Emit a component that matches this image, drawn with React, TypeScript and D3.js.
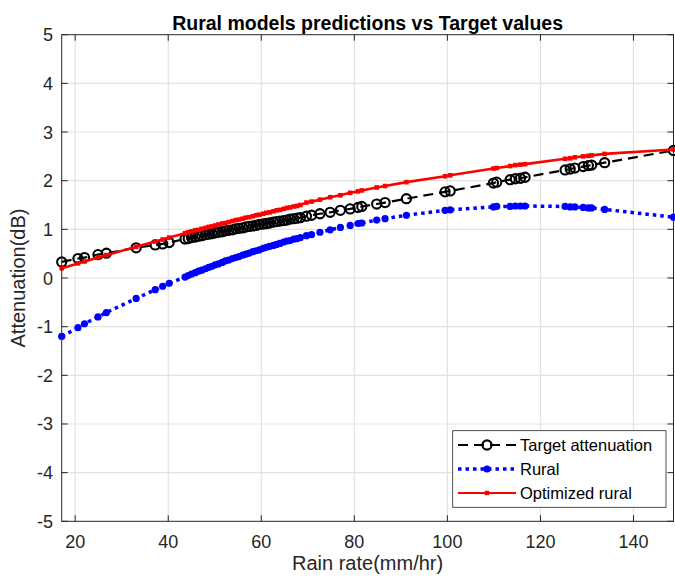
import React from "react";
import * as d3 from "d3";

const rainRate = [17.1, 20.6, 22.0, 24.9, 26.7, 33.1, 37.2, 38.8, 40.2, 43.6, 44.3, 45.0, 45.8, 46.5, 47.2, 48.0, 48.7, 49.4, 50.1, 50.8, 51.6, 52.3, 53.0, 53.8, 54.5, 55.2, 56.0, 56.7, 57.4, 58.2, 58.9, 59.6, 60.4, 61.1, 61.8, 62.6, 63.3, 64.0, 64.8, 65.5, 66.2, 67.0, 67.7, 68.4, 69.7, 70.8, 72.6, 74.8, 77.0, 79.1, 80.8, 81.6, 84.8, 86.6, 91.2, 99.5, 100.6, 109.9, 110.6, 113.5, 114.6, 115.7, 116.7, 125.3, 126.4, 127.4, 129.2, 130.3, 131.0, 133.8, 148.6];

const targetAtt = [0.33, 0.40, 0.42, 0.48, 0.51, 0.62, 0.68, 0.70, 0.73, 0.80, 0.81, 0.83, 0.84, 0.86, 0.87, 0.89, 0.90, 0.91, 0.93, 0.94, 0.95, 0.97, 0.98, 0.99, 1.01, 1.02, 1.03, 1.05, 1.06, 1.07, 1.08, 1.10, 1.11, 1.12, 1.13, 1.15, 1.16, 1.17, 1.18, 1.19, 1.21, 1.22, 1.23, 1.24, 1.27, 1.29, 1.32, 1.35, 1.39, 1.42, 1.45, 1.47, 1.52, 1.55, 1.63, 1.77, 1.79, 1.95, 1.97, 2.02, 2.04, 2.05, 2.07, 2.22, 2.24, 2.26, 2.29, 2.31, 2.32, 2.37, 2.62];

const ruralAtt = [-1.20, -1.02, -0.94, -0.80, -0.71, -0.42, -0.24, -0.17, -0.11, 0.02, 0.05, 0.08, 0.11, 0.14, 0.16, 0.19, 0.22, 0.24, 0.27, 0.29, 0.32, 0.35, 0.37, 0.40, 0.42, 0.44, 0.47, 0.49, 0.51, 0.54, 0.56, 0.58, 0.61, 0.63, 0.65, 0.67, 0.69, 0.71, 0.74, 0.76, 0.77, 0.80, 0.81, 0.83, 0.87, 0.89, 0.94, 0.99, 1.04, 1.08, 1.12, 1.13, 1.19, 1.22, 1.29, 1.39, 1.40, 1.46, 1.47, 1.47, 1.48, 1.48, 1.48, 1.47, 1.46, 1.46, 1.45, 1.44, 1.44, 1.41, 1.25];

const optimizedAtt = [0.20, 0.30, 0.34, 0.42, 0.47, 0.64, 0.75, 0.79, 0.83, 0.92, 0.94, 0.96, 0.98, 0.99, 1.01, 1.03, 1.05, 1.06, 1.08, 1.10, 1.12, 1.13, 1.15, 1.17, 1.19, 1.20, 1.22, 1.24, 1.25, 1.27, 1.29, 1.30, 1.32, 1.34, 1.35, 1.37, 1.39, 1.40, 1.42, 1.44, 1.45, 1.47, 1.48, 1.50, 1.55, 1.57, 1.61, 1.66, 1.70, 1.75, 1.78, 1.80, 1.86, 1.89, 1.97, 2.09, 2.11, 2.25, 2.26, 2.30, 2.32, 2.33, 2.34, 2.45, 2.46, 2.48, 2.50, 2.51, 2.52, 2.55, 2.64];

const xTicks = [20, 40, 60, 80, 100, 120, 140];
const yTicks = [-5, -4, -3, -2, -1, 0, 1, 2, 3, 4, 5];
const legendLabels = ["Target attenuation", "Rural", "Optimized rural"];

const W = 675;
const H = 582;
const L = 61.7;
const R = 673.5;
const T = 34.7;
const B = 521.3;
const FONT = "'Liberation Sans', Arial, Helvetica, sans-serif";
const AX = "#262626";

export default function App() {
  const x = d3.scaleLinear().domain([17.1, 148.6]).range([L, R]);
  const y = d3.scaleLinear().domain([-5, 5]).range([B, T]);

  const mk = (vals: number[]) =>
    d3
      .line<number>()
      .x((_, i) => x(rainRate[i]))
      .y((d) => y(d))(vals) || "";

  const tickLen = 6;
  const legX0 = 458;
  const legX1 = 516;
  const legMid = 487;
  const legRows = [445, 469, 493];

  return (
    <svg
      width={W}
      height={H}
      style={{ position: "absolute", left: 0, top: 0, background: "#fff" }}
      fontFamily={FONT}
    >
      <rect x={0} y={0} width={W} height={H} fill="#fff" />
      <rect x={L} y={T} width={R - L} height={B - T} fill="#fff" />
      {/* grid */}
      {xTicks.map((t) => (
        <line key={"gx" + t} x1={x(t)} x2={x(t)} y1={T} y2={B} stroke="#e2e2e2" strokeWidth={1.2} />
      ))}
      {yTicks.slice(1, -1).map((t) => (
        <line key={"gy" + t} x1={L} x2={R} y1={y(t)} y2={y(t)} stroke="#e2e2e2" strokeWidth={1.2} />
      ))}

      {/* series */}
      <g>
        <path d={mk(ruralAtt)} fill="none" stroke="#0000ff" strokeWidth={3.5} strokeDasharray="3.5,4" />
        {ruralAtt.map((v, i) => (
          <circle key={"r" + i} cx={x(rainRate[i])} cy={y(v)} r={3.6} fill="#0000ff" />
        ))}
        <path d={mk(targetAtt)} fill="none" stroke="#000" strokeWidth={2.2} strokeDasharray="10,6" />
        {targetAtt.map((v, i) => (
          <circle key={"t" + i} cx={x(rainRate[i])} cy={y(v)} r={4.6} fill="none" stroke="#000" strokeWidth={2.1} />
        ))}
        <path d={mk(optimizedAtt)} fill="none" stroke="#ff0000" strokeWidth={2.6} />
        {optimizedAtt.map((v, i) => (
          <rect key={"o" + i} x={x(rainRate[i]) - 2.3} y={y(v) - 2.3} width={4.6} height={4.6} fill="#ff0000" />
        ))}
      </g>

      {/* axes box */}
      <rect x={L} y={T} width={R - L} height={B - T} fill="none" stroke={AX} strokeWidth={1} />
      {xTicks.map((t) => (
        <g key={"xt" + t}>
          <line x1={x(t)} x2={x(t)} y1={B} y2={B - tickLen} stroke={AX} />
          <line x1={x(t)} x2={x(t)} y1={T} y2={T + tickLen} stroke={AX} />
          <text x={x(t)} y={548.3} textAnchor="middle" fontSize={18} fill={AX}>
            {t}
          </text>
        </g>
      ))}
      {yTicks.map((t) => (
        <g key={"yt" + t}>
          <line x1={L} x2={L + tickLen} y1={y(t)} y2={y(t)} stroke={AX} />
          <line x1={R} x2={R - tickLen} y1={y(t)} y2={y(t)} stroke={AX} />
          <text x={53} y={y(t) + 6.5} textAnchor="end" fontSize={18} fill={AX}>
            {t}
          </text>
        </g>
      ))}

      {/* labels */}
      <text x={(L + R) / 2} y={29.5} textAnchor="middle" fontSize={19.5} fontWeight="bold" fill="#000">
        Rural models predictions vs Target values
      </text>
      <text x={(L + R) / 2} y={570} textAnchor="middle" fontSize={20} fill={AX}>
        Rain rate(mm/hr)
      </text>
      <text
        transform={`translate(25,${(T + B) / 2}) rotate(-90)`}
        textAnchor="middle"
        fontSize={20}
        fill={AX}
      >
        Attenuation(dB)
      </text>

      {/* legend */}
      <rect x={452.7} y={430.7} width={213.3} height={76.6} fill="#fff" stroke={AX} strokeWidth={0.8} />
      <line x1={legX0} x2={legX1} y1={legRows[0]} y2={legRows[0]} stroke="#000" strokeWidth={2.2} strokeDasharray="10,6" />
      <circle cx={legMid} cy={legRows[0]} r={4.6} fill="none" stroke="#000" strokeWidth={2.1} />
      <line x1={legX0} x2={legX1} y1={legRows[1]} y2={legRows[1]} stroke="#0000ff" strokeWidth={3.5} strokeDasharray="3.5,4" />
      <circle cx={legMid} cy={legRows[1]} r={3.6} fill="#0000ff" />
      <line x1={legX0} x2={legX1} y1={legRows[2]} y2={legRows[2]} stroke="#ff0000" strokeWidth={2} />
      <rect x={legMid - 2.2} y={legRows[2] - 2.2} width={4.4} height={4.4} fill="#ff0000" />
      {legendLabels.map((s, i) => (
        <text key={s} x={520} y={legRows[i] + 6} fontSize={16.5} fill="#000">
          {s}
        </text>
      ))}
    </svg>
  );
}
